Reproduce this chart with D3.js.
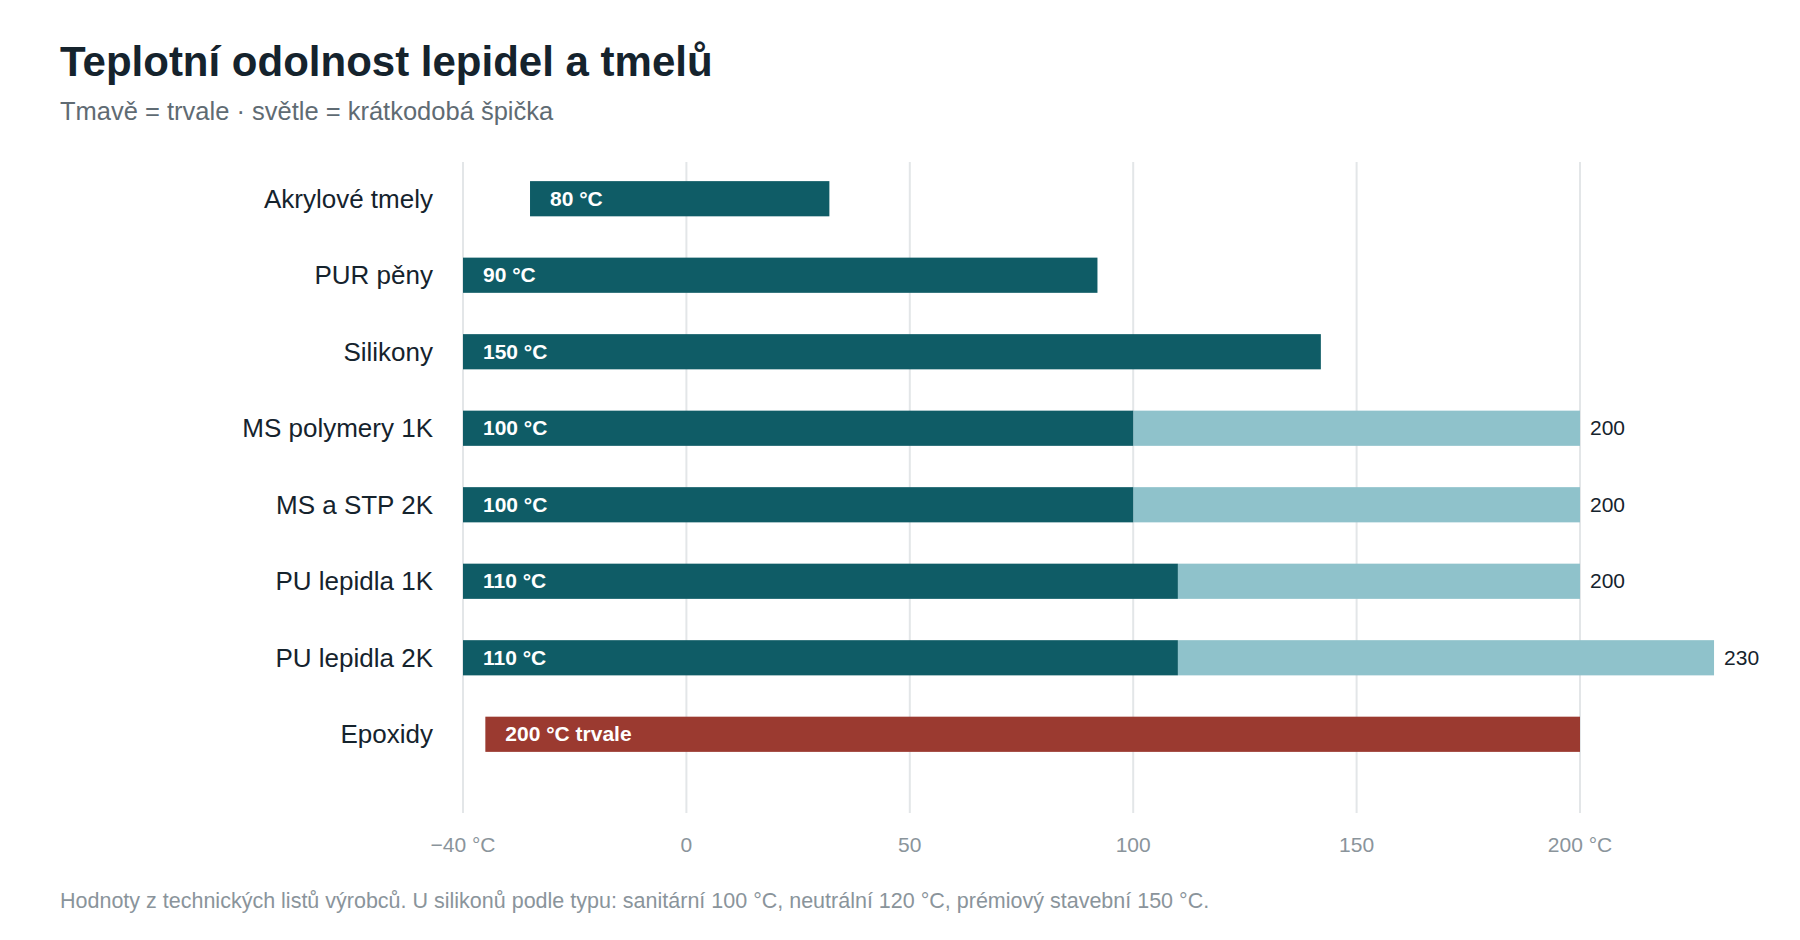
<!DOCTYPE html>
<html><head><meta charset="utf-8">
<script src="https://cdn.jsdelivr.net/npm/d3@7"></script>
<style>body{margin:0;background:#fff;font-family:"Liberation Sans",Arial,sans-serif}</style>
</head><body><svg id="c" width="1800" height="940"></svg>
<script>
const categories = ["Akrylové tmely","PUR pěny","Silikony","MS polymery 1K","MS a STP 2K","PU lepidla 1K","PU lepidla 2K","Epoxidy"];
const rangeStart = [-35,-50,-50,-50,-50,-50,-50,-45];
const continuousEnd = [32,92,142,100,100,110,110,200];
const peakEnd = [null,null,null,200,200,200,230,null];
const barLabels = ["80 °C","90 °C","150 °C","100 °C","100 °C","110 °C","110 °C","200 °C trvale"];
const peakLabels = [null,null,null,"200","200","200","230",null];
const tickValues = [-50,0,50,100,150,200];
const tickLabels = ["−40 °C","0","50","100","150","200 °C"];

const svg = d3.select("#c");
const x = d3.scaleLinear().domain([-50,200]).range([463,1580]);
const y = d3.scaleBand().domain(categories).range([162,771]).paddingInner(0.54).paddingOuter(0.25);

svg.append("text").attr("x",60).attr("y",76).attr("font-size",42).attr("font-weight","bold").attr("fill","#15232d").text("Teplotní odolnost lepidel a tmelů");
svg.append("text").attr("x",60).attr("y",120).attr("font-size",25.5).attr("fill","#5f6b73").text("Tmavě = trvale · světle = krátkodobá špička");

const g = svg.append("g");
g.selectAll("line.grid").data(tickValues).join("line").attr("x1",d=>x(d)).attr("x2",d=>x(d)).attr("y1",162).attr("y2",813).attr("stroke","#e3e6e8").attr("stroke-width",2);
g.selectAll("text.tick").data(tickValues).join("text").attr("x",d=>x(d)).attr("y",852).attr("text-anchor","middle").attr("font-size",21).attr("fill","#8a949b").text((d,i)=>tickLabels[i]);

const rows = categories.map((c,i)=>({c,i}));
g.selectAll("rect.peak").data(rows.filter(d=>peakEnd[d.i]!=null)).join("rect")
 .attr("x",d=>x(continuousEnd[d.i])).attr("width",d=>x(peakEnd[d.i])-x(continuousEnd[d.i]))
 .attr("y",d=>y(d.c)).attr("height",y.bandwidth()).attr("fill","#8fc2cb");
g.selectAll("rect.main").data(rows).join("rect")
 .attr("x",d=>x(rangeStart[d.i])).attr("width",d=>x(continuousEnd[d.i])-x(rangeStart[d.i]))
 .attr("y",d=>y(d.c)).attr("height",y.bandwidth()).attr("fill",d=>d.c==="Epoxidy"?"#9b3a30":"#0f5c66");
g.selectAll("text.bl").data(rows).join("text").attr("x",d=>x(rangeStart[d.i])+20).attr("y",d=>y(d.c)+y.bandwidth()/2+7)
 .attr("font-size",21).attr("font-weight","bold").attr("fill","#fff").text(d=>barLabels[d.i]);
g.selectAll("text.pl").data(rows.filter(d=>peakEnd[d.i]!=null)).join("text").attr("x",d=>x(peakEnd[d.i])+10).attr("y",d=>y(d.c)+y.bandwidth()/2+7)
 .attr("font-size",21).attr("fill","#15232d").text(d=>peakLabels[d.i]);
g.selectAll("text.cat").data(rows).join("text").attr("x",433).attr("y",d=>y(d.c)+y.bandwidth()/2+9)
 .attr("text-anchor","end").attr("font-size",26).attr("fill","#15232d").text(d=>d.c);

svg.append("text").attr("x",60).attr("y",908).attr("font-size",21.5).attr("fill","#8a949b").text("Hodnoty z technických listů výrobců. U silikonů podle typu: sanitární 100 °C, neutrální 120 °C, prémiový stavební 150 °C.");
</script></body></html>
